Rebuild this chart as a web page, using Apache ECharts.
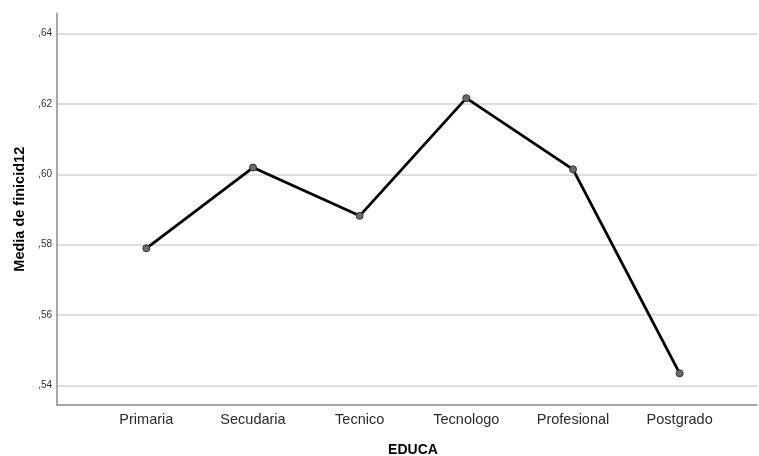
<!DOCTYPE html>
<html>
<head>
<meta charset="utf-8">
<script src="https://cdn.jsdelivr.net/npm/echarts@6/dist/echarts.min.js"></script>
<style>html,body{margin:0;padding:0;background:#fff}#c{width:759px;height:456px}</style>
</head>
<body>
<div id="c"></div>
<script>
var categories = ['Primaria', 'Secudaria', 'Tecnico', 'Tecnologo', 'Profesional', 'Postgrado'];
var means = [0.5790, 0.6019, 0.5882, 0.6216, 0.6014, 0.5435];
var yTicks = [0.54, 0.56, 0.58, 0.60, 0.62, 0.64];

var font = 'Arial, "Liberation Sans", sans-serif';
var chart = echarts.init(document.getElementById('c'), null, {renderer: 'canvas'});
chart.setOption({
  animation: false,
  backgroundColor: '#ffffff',
  textStyle: {fontFamily: font},
  grid: [
    {left: 57, right: 2, top: 13.5, bottom: 51, containLabel: false, outerBoundsMode: 'none'},
    {left: 57, right: 2, top: 33.3, bottom: 70.3, containLabel: false, outerBoundsMode: 'none'},
    {left: 93, right: 26, top: 33.3, bottom: 70.3, containLabel: false, outerBoundsMode: 'none'}
  ],
  xAxis: [
    {gridIndex: 0, type: 'value', min: 0, max: 1, axisLine: {show: true, lineStyle: {color: '#8c8c8c', width: 1.5}}, axisTick: {show: false}, axisLabel: {show: false}, splitLine: {show: false}},
    {gridIndex: 1, type: 'value', min: 0, max: 1, show: false},
    {gridIndex: 2, type: 'category', data: categories, boundaryGap: true,
      axisLine: {show: false}, axisTick: {show: false},
      axisLabel: {margin: 27, fontSize: 14.5, color: '#2b2b2b', fontFamily: font},
      name: 'EDUCA', nameLocation: 'middle', nameGap: 57,
      nameTextStyle: {fontSize: 14, fontWeight: 'bold', color: '#000000', fontFamily: font}}
  ],
  yAxis: [
    {gridIndex: 0, type: 'value', min: 0.5345, max: 0.6456,
      axisLine: {show: true, lineStyle: {color: '#8c8c8c', width: 1.5}}, axisTick: {show: false}, axisLabel: {show: false}, splitLine: {show: false},
      name: 'Media de finicid12', nameLocation: 'middle', nameGap: 30,
      nameTextStyle: {fontSize: 14.5, fontWeight: 'bold', color: '#000000', fontFamily: font}},
    {gridIndex: 1, type: 'value', min: yTicks[0], max: yTicks[yTicks.length - 1], interval: 0.02,
      axisLine: {show: false}, axisTick: {show: false},
      axisLabel: {margin: 5, fontSize: 10, color: '#333333', fontFamily: font,
        formatter: function (v) { return ',' + v.toFixed(2).split('.')[1]; }},
      splitLine: {show: true, lineStyle: {color: '#d4d4d4', width: 1.5}}},
    {gridIndex: 2, type: 'value', min: yTicks[0], max: yTicks[yTicks.length - 1], show: false}
  ],
  series: [{
    type: 'line',
    xAxisIndex: 2, yAxisIndex: 2,
    data: means,
    symbol: 'circle', symbolSize: 7,
    lineStyle: {color: '#000000', width: 2.8},
    itemStyle: {color: '#6a6a6a', borderColor: '#333333', borderWidth: 1},
    z: 5
  }]
});
</script>
</body>
</html>
